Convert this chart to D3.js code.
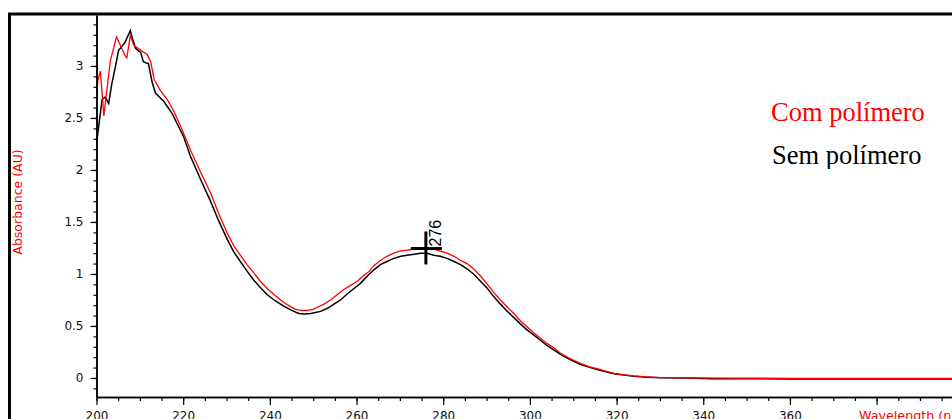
<!DOCTYPE html>
<html>
<head>
<meta charset="utf-8">
<script src="https://cdn.jsdelivr.net/npm/d3@7"></script>
<style>
  html, body { margin: 0; padding: 0; background: #fff; overflow: hidden; }
  svg { display: block; }
</style>
</head>
<body>
<div id="chart"></div>
<script>
// spectrum: [wavelength nm, absorbance AU]
const comPolimero = [
  [200.0, 2.68], [200.3, 2.86], [200.9, 2.95], [201.7, 2.52], [202.2, 2.70], [203.2, 3.05],
  [204.6, 3.28], [205.5, 3.20], [206.6, 3.10], [207.0, 3.08], [207.8, 3.29], [208.6, 3.20],
  [210.2, 3.15], [211.7, 3.11], [212.5, 3.04], [213.3, 2.87], [214.8, 2.76], [216.3, 2.68],
  [217.8, 2.57], [219.6, 2.40], [221.7, 2.19], [224.0, 1.98], [226.3, 1.78], [228.2, 1.58],
  [230.2, 1.39], [231.7, 1.27], [233.2, 1.18], [234.7, 1.09], [236.3, 1.01], [237.8, 0.93],
  [239.4, 0.86], [241.0, 0.80], [242.5, 0.75], [244.2, 0.70], [245.9, 0.66], [247.3, 0.65],
  [248.6, 0.65], [250.0, 0.66], [250.9, 0.68], [252.5, 0.71], [254.0, 0.75], [255.5, 0.80],
  [257.1, 0.85], [258.6, 0.89], [260.2, 0.93], [261.5, 0.98], [262.8, 1.02], [264.0, 1.08],
  [265.5, 1.13], [267.0, 1.17], [268.6, 1.20], [270.0, 1.22], [271.7, 1.23], [273.3, 1.24],
  [274.8, 1.25], [276.3, 1.25], [277.8, 1.24], [279.3, 1.22], [280.9, 1.20], [282.5, 1.17],
  [284.0, 1.13], [285.5, 1.10], [287.0, 1.05], [288.6, 0.98], [290.2, 0.90], [291.7, 0.82],
  [293.2, 0.75], [294.8, 0.68], [296.3, 0.62], [297.8, 0.55], [299.4, 0.49], [301.0, 0.43],
  [302.5, 0.38], [304.0, 0.33], [305.5, 0.29], [307.0, 0.24], [308.6, 0.20], [310.1, 0.17],
  [311.7, 0.14], [313.6, 0.11], [315.5, 0.09], [317.5, 0.065], [319.4, 0.045], [321.7, 0.03],
  [324.0, 0.02], [327.0, 0.01], [330.2, 0.004], [336.3, 0.0], [345, -0.002], [360, -0.003],
  [380, -0.003], [400, -0.003]
]
const semPolimero = [
  [200.0, 2.25], [200.6, 2.45], [201.3, 2.68], [202.0, 2.70], [202.8, 2.64], [203.5, 2.82],
  [204.4, 3.00], [205.1, 3.15], [206.5, 3.22], [207.8, 3.34], [208.4, 3.25], [209.0, 3.17],
  [210.2, 3.13], [210.8, 3.04], [212.0, 3.02], [212.8, 2.85], [213.6, 2.74], [215.5, 2.66],
  [217.5, 2.54], [218.9, 2.42], [220.1, 2.32], [221.7, 2.13], [224.0, 1.91], [226.3, 1.70],
  [228.2, 1.51], [230.2, 1.33], [231.7, 1.21], [233.2, 1.12], [234.7, 1.03], [236.3, 0.94],
  [237.8, 0.87], [239.4, 0.80], [241.3, 0.74], [243.2, 0.69], [245.0, 0.65], [246.7, 0.62],
  [248.0, 0.615], [249.4, 0.62], [250.5, 0.63], [251.7, 0.64], [253.3, 0.67], [254.8, 0.71],
  [256.3, 0.75], [257.9, 0.81], [259.4, 0.86], [260.9, 0.91], [262.5, 0.98], [264.0, 1.04],
  [265.5, 1.09], [267.0, 1.12], [268.6, 1.15], [270.2, 1.17], [271.7, 1.18], [273.3, 1.19],
  [274.8, 1.20], [276.3, 1.20], [277.8, 1.18], [279.3, 1.17], [280.9, 1.15], [282.5, 1.12],
  [284.0, 1.09], [285.5, 1.05], [287.0, 1.00], [288.6, 0.93], [290.2, 0.86], [291.7, 0.78],
  [293.2, 0.71], [294.8, 0.64], [296.3, 0.58], [297.8, 0.52], [299.4, 0.46], [301.0, 0.41],
  [302.5, 0.36], [304.0, 0.31], [305.5, 0.27], [307.0, 0.23], [308.6, 0.19], [310.1, 0.16],
  [311.7, 0.13], [313.6, 0.105], [315.5, 0.08], [317.5, 0.06], [319.4, 0.04], [321.7, 0.028],
  [324.0, 0.016], [327.0, 0.008], [330.2, 0.002], [336.3, 0.0], [342, -0.008], [360, -0.009],
  [380, -0.009], [400, -0.009]
]
const yTicks = [0, 0.5, 1, 1.5, 2, 2.5, 3]
const yMinorTicks = d3.range(-1, 35).map(d => d / 10)
const xTicks = [200, 220, 240, 260, 280, 300, 320, 340, 360, 380]
const xLabelled = [200, 220, 240, 260, 280, 300, 320, 340, 360]
const xMinorTicks = d3.range(200, 401, 5)
const legend = [
  { label: 'Com polímero', color: '#ff0000' },
  { label: 'Sem polímero', color: '#000000' }
]
const marker = { wavelength: 276, value: 1.245, label: '276' }

const width = 952
const height = 419
const plot = { left: 96.5, top: 15, bottom: 397 }

const svg = d3.select('#chart')
  .append('svg')
  .attr('width', width)
  .attr('height', height)

const x = d3.scaleLinear().domain([200, 400]).range([plot.left, plot.left + 200 * 4.334])
const y = d3.scaleLinear().domain([-0.183, 3.49]).range([plot.bottom, plot.top])

// outer frame
svg.append('rect')
  .attr('x', 9.5)
  .attr('y', 14)
  .attr('width', 1000)
  .attr('height', 500)
  .attr('fill', 'none')
  .attr('stroke', '#000')
  .attr('stroke-width', 3)

svg.append('clipPath')
  .attr('id', 'plot-clip')
  .append('rect')
  .attr('x', plot.left)
  .attr('y', plot.top)
  .attr('width', width - plot.left)
  .attr('height', plot.bottom - plot.top)

const line = d3.line()
  .x(d => x(d[0]))
  .y(d => y(d[1]))

const lines = svg.append('g').attr('clip-path', 'url(#plot-clip)')
lines.append('path')
  .datum(semPolimero)
  .attr('d', line)
  .attr('fill', 'none')
  .attr('stroke', '#000')
  .attr('stroke-width', 1.5)
lines.append('path')
  .datum(comPolimero)
  .attr('d', line)
  .attr('fill', 'none')
  .attr('stroke', '#ff0000')
  .attr('stroke-width', 1.3)

// axes
svg.append('g')
  .attr('transform', `translate(${plot.left}, 0)`)
  .call(d3.axisLeft(y).tickValues(yMinorTicks).tickSize(3).tickSizeOuter(0).tickFormat(''))
svg.append('g')
  .attr('transform', `translate(${plot.left}, 0)`)
  .call(d3.axisLeft(y).tickValues(yTicks).tickSize(6).tickPadding(7).tickSizeOuter(0).tickFormat(d3.format('')))
svg.append('g')
  .attr('transform', `translate(0, ${plot.bottom})`)
  .call(d3.axisBottom(x).tickValues(xMinorTicks).tickSize(4).tickSizeOuter(0).tickFormat(''))
svg.append('g')
  .attr('transform', `translate(0, ${plot.bottom})`)
  .call(d3.axisBottom(x).tickValues(xTicks).tickSize(8).tickPadding(6).tickSizeOuter(0)
    .tickFormat(d => xLabelled.includes(d) ? d : ''))

svg.selectAll('.domain').attr('stroke', '#000').attr('stroke-width', 1.5)
svg.selectAll('.tick line').attr('stroke', '#000').attr('stroke-width', 1.2)
svg.selectAll('.tick text')
  .attr('font-family', 'DejaVu Sans, Verdana, sans-serif')
  .attr('font-size', 12)
  .attr('fill', '#111')

svg.append('text')
  .text('Absorbance (AU)')
  .attr('transform', `translate(22, 202)rotate(-90)`)
  .attr('text-anchor', 'middle')
  .attr('font-family', 'DejaVu Sans, Verdana, sans-serif')
  .attr('font-size', 12.5)
  .attr('fill', '#ff0000')
svg.append('text')
  .text('Wavelength (nm)')
  .attr('x', 859)
  .attr('y', 419.5)
  .attr('font-family', 'DejaVu Sans, Verdana, sans-serif')
  .attr('font-size', 12.7)
  .attr('fill', '#ff0000')

// cursor marker
const mx = x(marker.wavelength)
const my = y(marker.value)
svg.append('line')
  .attr('x1', mx).attr('x2', mx)
  .attr('y1', my - 17).attr('y2', my + 16)
  .attr('stroke', '#000').attr('stroke-width', 3)
svg.append('line')
  .attr('x1', mx - 15).attr('x2', mx + 16)
  .attr('y1', my).attr('y2', my)
  .attr('stroke', '#000').attr('stroke-width', 3)
svg.append('text')
  .text(marker.label)
  .attr('transform', `translate(${mx + 15}, ${my - 2})rotate(-90)`)
  .attr('font-family', 'Liberation Sans, Arial, sans-serif')
  .attr('font-size', 16)
  .attr('fill', '#000')

// legend
svg.append('clipPath')
  .attr('id', 'legend-clip')
  .append('rect')
  .attr('x', 740).attr('y', 80).attr('width', 212).attr('height', 89)
svg.append('g')
  .attr('clip-path', 'url(#legend-clip)')
  .selectAll('text')
  .data(legend)
  .join('text')
  .text(d => d.label)
  .attr('x', (d, i) => 771 + i)
  .attr('y', (d, i) => 121 + i * 43)
  .attr('font-family', 'Liberation Serif, Times New Roman, serif')
  .attr('font-size', 26.5)
  .attr('fill', d => d.color)
</script>
</body>
</html>
